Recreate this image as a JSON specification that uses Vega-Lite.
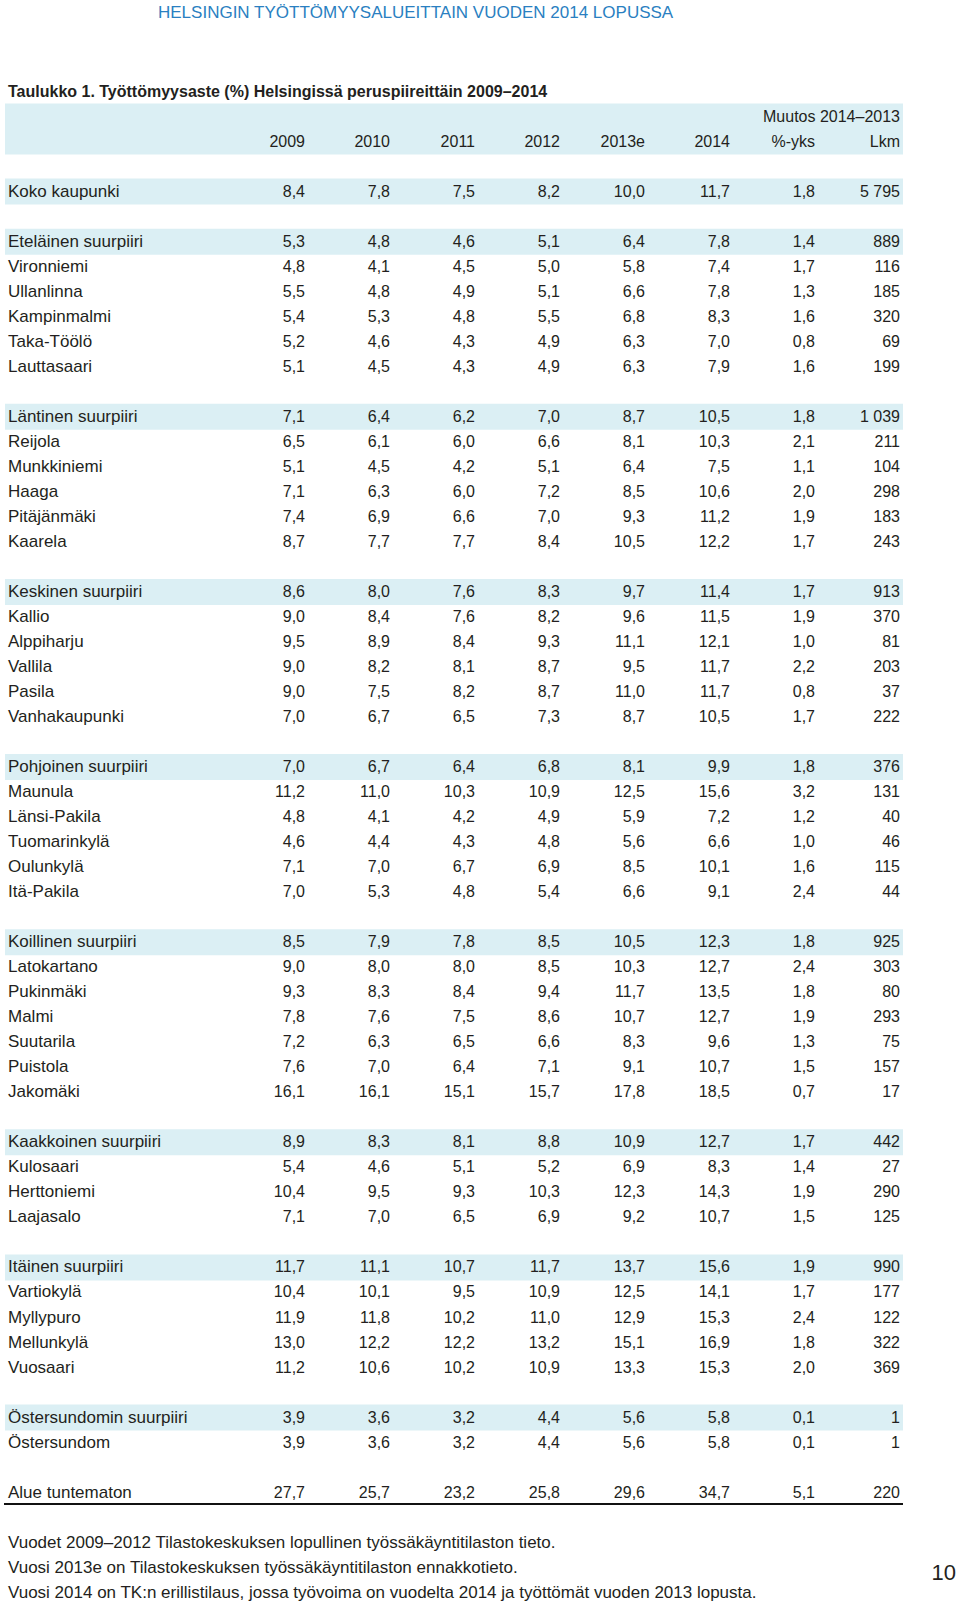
{
  "$schema": "https://vega.github.io/schema/vega-lite/v6.json",
  "width": 960,
  "height": 1606,
  "autosize": "none",
  "padding": 0,
  "background": "white",
  "config": {
    "view": {"stroke": null},
    "locale": {"number": {"decimal": ",", "thousands": "\u00a0", "grouping": [3], "currency": ["", ""]}},
    "text": {"font": "Liberation Sans", "fontSize": 16, "baseline": "middle", "color": "#231f20"}
  },
  "datasets": {
    "rows": [
      {"r": 0, "kind": "total", "name": "Koko kaupunki", "v2009": 8.4, "v2010": 7.8, "v2011": 7.5, "v2012": 8.2, "v2013e": 10.0, "v2014": 11.7, "pp": 1.8, "lkm": 5795},
      {"r": 2, "kind": "district", "name": "Eteläinen suurpiiri", "v2009": 5.3, "v2010": 4.8, "v2011": 4.6, "v2012": 5.1, "v2013e": 6.4, "v2014": 7.8, "pp": 1.4, "lkm": 889},
      {"r": 3, "kind": "area", "name": "Vironniemi", "v2009": 4.8, "v2010": 4.1, "v2011": 4.5, "v2012": 5.0, "v2013e": 5.8, "v2014": 7.4, "pp": 1.7, "lkm": 116},
      {"r": 4, "kind": "area", "name": "Ullanlinna", "v2009": 5.5, "v2010": 4.8, "v2011": 4.9, "v2012": 5.1, "v2013e": 6.6, "v2014": 7.8, "pp": 1.3, "lkm": 185},
      {"r": 5, "kind": "area", "name": "Kampinmalmi", "v2009": 5.4, "v2010": 5.3, "v2011": 4.8, "v2012": 5.5, "v2013e": 6.8, "v2014": 8.3, "pp": 1.6, "lkm": 320},
      {"r": 6, "kind": "area", "name": "Taka-Töölö", "v2009": 5.2, "v2010": 4.6, "v2011": 4.3, "v2012": 4.9, "v2013e": 6.3, "v2014": 7.0, "pp": 0.8, "lkm": 69},
      {"r": 7, "kind": "area", "name": "Lauttasaari", "v2009": 5.1, "v2010": 4.5, "v2011": 4.3, "v2012": 4.9, "v2013e": 6.3, "v2014": 7.9, "pp": 1.6, "lkm": 199},
      {"r": 9, "kind": "district", "name": "Läntinen suurpiiri", "v2009": 7.1, "v2010": 6.4, "v2011": 6.2, "v2012": 7.0, "v2013e": 8.7, "v2014": 10.5, "pp": 1.8, "lkm": 1039},
      {"r": 10, "kind": "area", "name": "Reijola", "v2009": 6.5, "v2010": 6.1, "v2011": 6.0, "v2012": 6.6, "v2013e": 8.1, "v2014": 10.3, "pp": 2.1, "lkm": 211},
      {"r": 11, "kind": "area", "name": "Munkkiniemi", "v2009": 5.1, "v2010": 4.5, "v2011": 4.2, "v2012": 5.1, "v2013e": 6.4, "v2014": 7.5, "pp": 1.1, "lkm": 104},
      {"r": 12, "kind": "area", "name": "Haaga", "v2009": 7.1, "v2010": 6.3, "v2011": 6.0, "v2012": 7.2, "v2013e": 8.5, "v2014": 10.6, "pp": 2.0, "lkm": 298},
      {"r": 13, "kind": "area", "name": "Pitäjänmäki", "v2009": 7.4, "v2010": 6.9, "v2011": 6.6, "v2012": 7.0, "v2013e": 9.3, "v2014": 11.2, "pp": 1.9, "lkm": 183},
      {"r": 14, "kind": "area", "name": "Kaarela", "v2009": 8.7, "v2010": 7.7, "v2011": 7.7, "v2012": 8.4, "v2013e": 10.5, "v2014": 12.2, "pp": 1.7, "lkm": 243},
      {"r": 16, "kind": "district", "name": "Keskinen suurpiiri", "v2009": 8.6, "v2010": 8.0, "v2011": 7.6, "v2012": 8.3, "v2013e": 9.7, "v2014": 11.4, "pp": 1.7, "lkm": 913},
      {"r": 17, "kind": "area", "name": "Kallio", "v2009": 9.0, "v2010": 8.4, "v2011": 7.6, "v2012": 8.2, "v2013e": 9.6, "v2014": 11.5, "pp": 1.9, "lkm": 370},
      {"r": 18, "kind": "area", "name": "Alppiharju", "v2009": 9.5, "v2010": 8.9, "v2011": 8.4, "v2012": 9.3, "v2013e": 11.1, "v2014": 12.1, "pp": 1.0, "lkm": 81},
      {"r": 19, "kind": "area", "name": "Vallila", "v2009": 9.0, "v2010": 8.2, "v2011": 8.1, "v2012": 8.7, "v2013e": 9.5, "v2014": 11.7, "pp": 2.2, "lkm": 203},
      {"r": 20, "kind": "area", "name": "Pasila", "v2009": 9.0, "v2010": 7.5, "v2011": 8.2, "v2012": 8.7, "v2013e": 11.0, "v2014": 11.7, "pp": 0.8, "lkm": 37},
      {"r": 21, "kind": "area", "name": "Vanhakaupunki", "v2009": 7.0, "v2010": 6.7, "v2011": 6.5, "v2012": 7.3, "v2013e": 8.7, "v2014": 10.5, "pp": 1.7, "lkm": 222},
      {"r": 23, "kind": "district", "name": "Pohjoinen suurpiiri", "v2009": 7.0, "v2010": 6.7, "v2011": 6.4, "v2012": 6.8, "v2013e": 8.1, "v2014": 9.9, "pp": 1.8, "lkm": 376},
      {"r": 24, "kind": "area", "name": "Maunula", "v2009": 11.2, "v2010": 11.0, "v2011": 10.3, "v2012": 10.9, "v2013e": 12.5, "v2014": 15.6, "pp": 3.2, "lkm": 131},
      {"r": 25, "kind": "area", "name": "Länsi-Pakila", "v2009": 4.8, "v2010": 4.1, "v2011": 4.2, "v2012": 4.9, "v2013e": 5.9, "v2014": 7.2, "pp": 1.2, "lkm": 40},
      {"r": 26, "kind": "area", "name": "Tuomarinkylä", "v2009": 4.6, "v2010": 4.4, "v2011": 4.3, "v2012": 4.8, "v2013e": 5.6, "v2014": 6.6, "pp": 1.0, "lkm": 46},
      {"r": 27, "kind": "area", "name": "Oulunkylä", "v2009": 7.1, "v2010": 7.0, "v2011": 6.7, "v2012": 6.9, "v2013e": 8.5, "v2014": 10.1, "pp": 1.6, "lkm": 115},
      {"r": 28, "kind": "area", "name": "Itä-Pakila", "v2009": 7.0, "v2010": 5.3, "v2011": 4.8, "v2012": 5.4, "v2013e": 6.6, "v2014": 9.1, "pp": 2.4, "lkm": 44},
      {"r": 30, "kind": "district", "name": "Koillinen suurpiiri", "v2009": 8.5, "v2010": 7.9, "v2011": 7.8, "v2012": 8.5, "v2013e": 10.5, "v2014": 12.3, "pp": 1.8, "lkm": 925},
      {"r": 31, "kind": "area", "name": "Latokartano", "v2009": 9.0, "v2010": 8.0, "v2011": 8.0, "v2012": 8.5, "v2013e": 10.3, "v2014": 12.7, "pp": 2.4, "lkm": 303},
      {"r": 32, "kind": "area", "name": "Pukinmäki", "v2009": 9.3, "v2010": 8.3, "v2011": 8.4, "v2012": 9.4, "v2013e": 11.7, "v2014": 13.5, "pp": 1.8, "lkm": 80},
      {"r": 33, "kind": "area", "name": "Malmi", "v2009": 7.8, "v2010": 7.6, "v2011": 7.5, "v2012": 8.6, "v2013e": 10.7, "v2014": 12.7, "pp": 1.9, "lkm": 293},
      {"r": 34, "kind": "area", "name": "Suutarila", "v2009": 7.2, "v2010": 6.3, "v2011": 6.5, "v2012": 6.6, "v2013e": 8.3, "v2014": 9.6, "pp": 1.3, "lkm": 75},
      {"r": 35, "kind": "area", "name": "Puistola", "v2009": 7.6, "v2010": 7.0, "v2011": 6.4, "v2012": 7.1, "v2013e": 9.1, "v2014": 10.7, "pp": 1.5, "lkm": 157},
      {"r": 36, "kind": "area", "name": "Jakomäki", "v2009": 16.1, "v2010": 16.1, "v2011": 15.1, "v2012": 15.7, "v2013e": 17.8, "v2014": 18.5, "pp": 0.7, "lkm": 17},
      {"r": 38, "kind": "district", "name": "Kaakkoinen suurpiiri", "v2009": 8.9, "v2010": 8.3, "v2011": 8.1, "v2012": 8.8, "v2013e": 10.9, "v2014": 12.7, "pp": 1.7, "lkm": 442},
      {"r": 39, "kind": "area", "name": "Kulosaari", "v2009": 5.4, "v2010": 4.6, "v2011": 5.1, "v2012": 5.2, "v2013e": 6.9, "v2014": 8.3, "pp": 1.4, "lkm": 27},
      {"r": 40, "kind": "area", "name": "Herttoniemi", "v2009": 10.4, "v2010": 9.5, "v2011": 9.3, "v2012": 10.3, "v2013e": 12.3, "v2014": 14.3, "pp": 1.9, "lkm": 290},
      {"r": 41, "kind": "area", "name": "Laajasalo", "v2009": 7.1, "v2010": 7.0, "v2011": 6.5, "v2012": 6.9, "v2013e": 9.2, "v2014": 10.7, "pp": 1.5, "lkm": 125},
      {"r": 43, "kind": "district", "name": "Itäinen suurpiiri", "v2009": 11.7, "v2010": 11.1, "v2011": 10.7, "v2012": 11.7, "v2013e": 13.7, "v2014": 15.6, "pp": 1.9, "lkm": 990},
      {"r": 44, "kind": "area", "name": "Vartiokylä", "v2009": 10.4, "v2010": 10.1, "v2011": 9.5, "v2012": 10.9, "v2013e": 12.5, "v2014": 14.1, "pp": 1.7, "lkm": 177},
      {"r": 45, "kind": "area", "name": "Myllypuro", "v2009": 11.9, "v2010": 11.8, "v2011": 10.2, "v2012": 11.0, "v2013e": 12.9, "v2014": 15.3, "pp": 2.4, "lkm": 122},
      {"r": 46, "kind": "area", "name": "Mellunkylä", "v2009": 13.0, "v2010": 12.2, "v2011": 12.2, "v2012": 13.2, "v2013e": 15.1, "v2014": 16.9, "pp": 1.8, "lkm": 322},
      {"r": 47, "kind": "area", "name": "Vuosaari", "v2009": 11.2, "v2010": 10.6, "v2011": 10.2, "v2012": 10.9, "v2013e": 13.3, "v2014": 15.3, "pp": 2.0, "lkm": 369},
      {"r": 49, "kind": "district", "name": "Östersundomin suurpiiri", "v2009": 3.9, "v2010": 3.6, "v2011": 3.2, "v2012": 4.4, "v2013e": 5.6, "v2014": 5.8, "pp": 0.1, "lkm": 1},
      {"r": 50, "kind": "area", "name": "Östersundom", "v2009": 3.9, "v2010": 3.6, "v2011": 3.2, "v2012": 4.4, "v2013e": 5.6, "v2014": 5.8, "pp": 0.1, "lkm": 1},
      {"r": 52, "kind": "unknown", "name": "Alue tuntematon", "v2009": 27.7, "v2010": 25.7, "v2011": 23.2, "v2012": 25.8, "v2013e": 29.6, "v2014": 34.7, "pp": 5.1, "lkm": 220}
    ],
    "head": [
      {"r": -3, "col": "lkm", "t": "Muutos 2014–2013"},
      {"r": -2, "col": "v2009", "t": "2009"},
      {"r": -2, "col": "v2010", "t": "2010"},
      {"r": -2, "col": "v2011", "t": "2011"},
      {"r": -2, "col": "v2012", "t": "2012"},
      {"r": -2, "col": "v2013e", "t": "2013e"},
      {"r": -2, "col": "v2014", "t": "2014"},
      {"r": -2, "col": "pp", "t": "%-yks"},
      {"r": -2, "col": "lkm", "t": "Lkm"}
    ],
    "notes": [
      {"r": 54, "t": "Vuodet 2009–2012 Tilastokeskuksen lopullinen työssäkäyntitilaston tieto."},
      {"r": 55, "t": "Vuosi 2013e on Tilastokeskuksen työssäkäyntitilaston ennakkotieto."},
      {"r": 56, "t": "Vuosi 2014 on TK:n erillistilaus, jossa työvoima on vuodelta 2014 ja työttömät vuoden 2013 lopusta."}
    ]
  },
  "resolve": {"scale": {"x": "independent"}},
  "layer": [
    {
      "data": {"name": "head"},
      "transform": [{"aggregate": [{"op": "count", "as": "n"}], "groupby": ["r"]}],
      "mark": {"type": "rule", "strokeWidth": 26, "color": "#dbeff4", "strokeCap": "butt"},
      "encoding": {
        "x": {"datum": 5, "type": "quantitative", "scale": {"domain": [0, 960], "range": [0, 960]}, "axis": null},
        "x2": {"datum": 903},
        "y": {"field": "r", "type": "quantitative", "scale": {"domain": [-7.658, 56.53], "range": [0, 1606]}, "axis": null}
      }
    },
    {
      "data": {"name": "rows"},
      "transform": [{"filter": "datum.kind === 'total' || datum.kind === 'district'"}],
      "mark": {"type": "rule", "strokeWidth": 26, "color": "#dbeff4", "strokeCap": "butt"},
      "encoding": {
        "x": {"datum": 5, "type": "quantitative", "scale": {"domain": [0, 960], "range": [0, 960]}, "axis": null},
        "x2": {"datum": 903},
        "y": {"field": "r", "type": "quantitative", "scale": {"domain": [-7.658, 56.53], "range": [0, 1606]}, "axis": null}
      }
    },
    {
      "data": {"values": [{"r": 52.45}]},
      "mark": {"type": "rule", "strokeWidth": 2, "color": "#111111"},
      "encoding": {
        "x": {"datum": 4, "type": "quantitative", "scale": {"domain": [0, 960], "range": [0, 960]}, "axis": null},
        "x2": {"datum": 903},
        "y": {"field": "r", "type": "quantitative", "scale": {"domain": [-7.658, 56.53], "range": [0, 1606]}, "axis": null}
      }
    },
    {
      "data": {"name": "rows"},
      "mark": {"type": "text", "align": "left", "fontSize": 17},
      "encoding": {
        "x": {"datum": 8, "type": "quantitative", "scale": {"domain": [0, 960], "range": [0, 960]}, "axis": null},
        "y": {"field": "r", "type": "quantitative", "scale": {"domain": [-7.658, 56.53], "range": [0, 1606]}, "axis": null},
        "text": {"field": "name"}
      }
    },
    {
      "data": {"name": "rows"},
      "transform": [{"fold": ["v2009", "v2010", "v2011", "v2012", "v2013e", "v2014", "pp"], "as": ["col", "val"]}],
      "mark": {"type": "text", "align": "right"},
      "encoding": {
        "x": {"field": "col", "type": "nominal", "scale": {"type": "point", "domain": ["v2009", "v2010", "v2011", "v2012", "v2013e", "v2014", "pp", "lkm"], "range": [305, 900], "padding": 0}, "axis": null},
        "y": {"field": "r", "type": "quantitative", "scale": {"domain": [-7.658, 56.53], "range": [0, 1606]}, "axis": null},
        "text": {"field": "val", "type": "quantitative", "format": ".1f"}
      }
    },
    {
      "data": {"name": "rows"},
      "mark": {"type": "text", "align": "right"},
      "encoding": {
        "x": {"datum": "lkm", "type": "nominal", "scale": {"type": "point", "domain": ["v2009", "v2010", "v2011", "v2012", "v2013e", "v2014", "pp", "lkm"], "range": [305, 900], "padding": 0}, "axis": null},
        "y": {"field": "r", "type": "quantitative", "scale": {"domain": [-7.658, 56.53], "range": [0, 1606]}, "axis": null},
        "text": {"field": "lkm", "type": "quantitative", "format": ",d"}
      }
    },
    {
      "data": {"name": "head"},
      "mark": {"type": "text", "align": "right"},
      "encoding": {
        "x": {"field": "col", "type": "nominal", "scale": {"type": "point", "domain": ["v2009", "v2010", "v2011", "v2012", "v2013e", "v2014", "pp", "lkm"], "range": [305, 900], "padding": 0}, "axis": null},
        "y": {"field": "r", "type": "quantitative", "scale": {"domain": [-7.658, 56.53], "range": [0, 1606]}, "axis": null},
        "text": {"field": "t"}
      }
    },
    {
      "data": {"values": [{"r": -4, "t": "Taulukko 1. Työttömyysaste (%) Helsingissä peruspiireittäin 2009–2014"}]},
      "mark": {"type": "text", "align": "left", "fontWeight": "bold", "fontSize": 16},
      "encoding": {
        "x": {"datum": 8, "type": "quantitative", "scale": {"domain": [0, 960], "range": [0, 960]}, "axis": null},
        "y": {"field": "r", "type": "quantitative", "scale": {"domain": [-7.658, 56.53], "range": [0, 1606]}, "axis": null},
        "text": {"field": "t"}
      }
    },
    {
      "data": {"values": [{"r": -7.12, "t": "HELSINGIN TYÖTTÖMYYSALUEITTAIN VUODEN 2014 LOPUSSA"}]},
      "mark": {"type": "text", "align": "left", "fontSize": 17, "color": "#2a7fc1"},
      "encoding": {
        "x": {"datum": 158, "type": "quantitative", "scale": {"domain": [0, 960], "range": [0, 960]}, "axis": null},
        "y": {"field": "r", "type": "quantitative", "scale": {"domain": [-7.658, 56.53], "range": [0, 1606]}, "axis": null},
        "text": {"field": "t"}
      }
    },
    {
      "data": {"name": "notes"},
      "mark": {"type": "text", "align": "left", "fontSize": 17},
      "encoding": {
        "x": {"datum": 8, "type": "quantitative", "scale": {"domain": [0, 960], "range": [0, 960]}, "axis": null},
        "y": {"field": "r", "type": "quantitative", "scale": {"domain": [-7.658, 56.53], "range": [0, 1606]}, "axis": null},
        "text": {"field": "t"}
      }
    },
    {
      "data": {"values": [{"r": 55.2, "t": "10"}]},
      "mark": {"type": "text", "align": "right", "fontSize": 22},
      "encoding": {
        "x": {"datum": 956, "type": "quantitative", "scale": {"domain": [0, 960], "range": [0, 960]}, "axis": null},
        "y": {"field": "r", "type": "quantitative", "scale": {"domain": [-7.658, 56.53], "range": [0, 1606]}, "axis": null},
        "text": {"field": "t"}
      }
    }
  ]
}
